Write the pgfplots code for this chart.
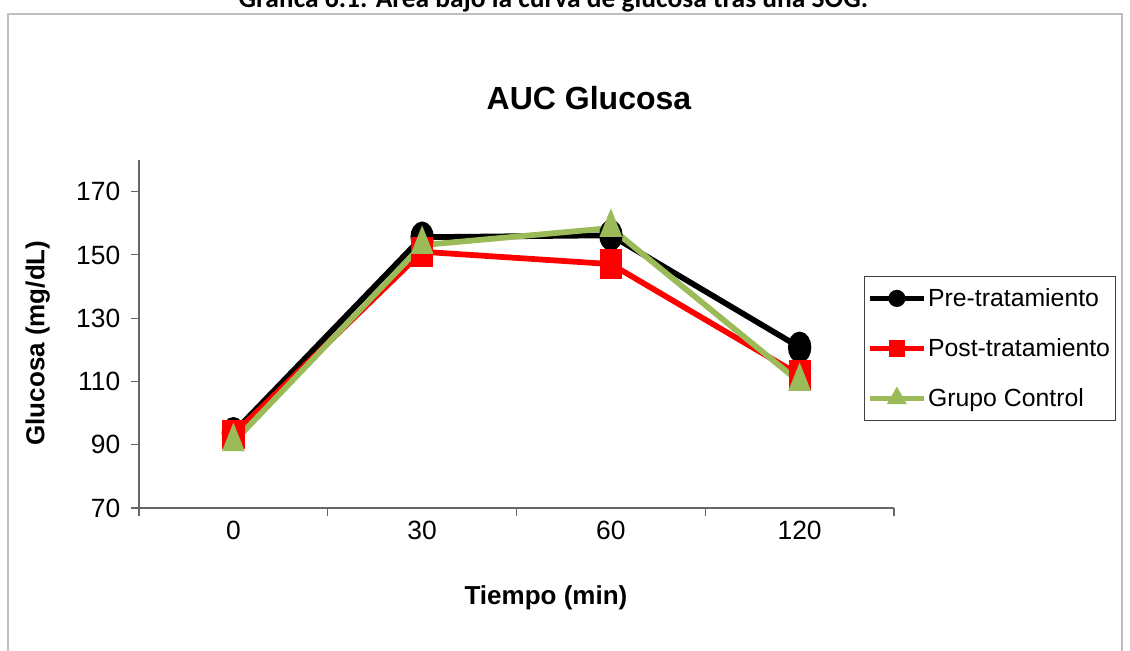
\documentclass[border=0pt]{standalone}
\usepackage{pgfplots}
\pgfplotsset{compat=1.18}
\usepackage{fontspec}
\setmainfont{Liberation Sans}
\newfontfamily\carlito{Carlito}
\definecolor{cgreen}{HTML}{9BBB59}
\definecolor{cred}{HTML}{FF0000}
\begin{document}
\begin{tikzpicture}
\useasboundingbox (0,0) rectangle (847.5pt,-487.5pt);
\fill[white] (0,0) rectangle (847.5pt,-487.5pt);
\draw[black!25, line width=0.8pt] (6pt,-10.5pt) rectangle (841.5pt,-495pt);
\node[anchor=base, font=\carlito\bfseries\fontsize{20.6}{24}\selectfont] at (415pt,-5.5pt) {Gráfica 6.1. Área bajo la curva de glucosa tras una SOG.};
\begin{axis}[
  at={(104.25pt,-381pt)}, anchor=south west,
  scale only axis, width=566.25pt, height=261pt,
  xmin=-0.5, xmax=3.5, ymin=70, ymax=180,
  axis x line*=bottom, axis y line*=left,
  axis line style={draw=black!60, line width=0.8pt},
  xtick={0,1,2,3}, xticklabels={0,30,60,120},
  minor xtick={-0.5,0.5,1.5,2.5,3.5},
  major x tick style={draw=none},
  minor x tick style={draw=black!60, line width=0.8pt},
  minor tick length=6pt,
  ytick={70,90,110,130,150,170},
  major tick length=6pt,
  y tick style={draw=black!60, line width=0.8pt},
  tick align=outside,
  tick label style={font=\fontsize{19.8}{23}\selectfont},
  yticklabel style={xshift=-4.5pt},
  /pgf/number format/assume math mode=true,
  title={AUC Glucosa},
  title style={font=\bfseries\fontsize{24}{28}\selectfont, at={(axis description cs:0.596,1.155)}, anchor=center},
  xlabel={Tiempo (min)},
  xlabel style={font=\bfseries\fontsize{19.5}{23}\selectfont, at={(axis description cs:0.539,-0.259)}, anchor=center},
  ylabel={Glucosa (mg/dL)},
  ylabel style={font=\bfseries\fontsize{19.5}{23}\selectfont, at={(axis description cs:-0.134,0.474)}, anchor=center, rotate=0},
  legend style={at={(axis description cs:0.960,0.667)}, anchor=north west,
    draw=black!75, line width=0.8pt, fill=white,
    font=\fontsize{18.6}{22}\selectfont, inner xsep=2.5pt, inner ysep=7.5pt,
    nodes={inner sep=1.5pt}, row sep=19.5pt},
  legend cell align=left,
  legend image code/.code={
    \draw[#1, mark=none] (0pt,0pt) -- (40pt,0pt);
    \draw[#1, draw=none] plot coordinates {(20pt,0pt)};
  },
  clip=false,
]
\addplot[forget plot, black, line width=4.3pt, mark=*, mark size=6.6pt, mark options={yscale=1.45}]
  coordinates {(0,93.8) (1,155.6) (2,156.2) (3,120.8)};
\addplot[forget plot, cred, line width=4.3pt, mark=square*, mark size=6.2pt, mark options={yscale=1.45}]
  coordinates {(0,93.2) (1,151.0) (2,147.1) (3,112.0)};
\addplot[forget plot, cgreen, line width=4.3pt, mark=triangle*, mark size=6.2pt, mark options={yscale=1.45}]
  coordinates {(0,90.8) (1,153.1) (2,158.5) (3,109.8)};
\addlegendimage{black, line width=3.8pt, mark=*, mark size=4.5pt}
\addlegendentry{Pre-tratamiento}
\addlegendimage{cred, line width=3.8pt, mark=square*, mark size=4.2pt}
\addlegendentry{Post-tratamiento}
\addlegendimage{cgreen, line width=3.8pt, mark=triangle*, mark size=5pt}
\addlegendentry{Grupo Control}
\end{axis}
\end{tikzpicture}
\end{document}
